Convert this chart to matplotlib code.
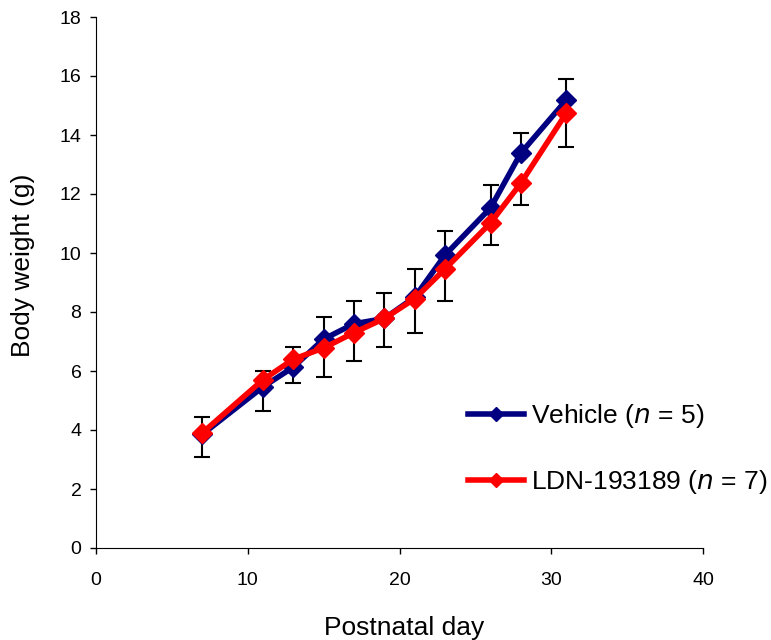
import matplotlib
matplotlib.use("Agg")
import matplotlib.pyplot as plt
import numpy as np

plt.rcParams['font.family'] = ['Liberation Sans', 'DejaVu Sans']

days = [7, 11, 13, 15, 17, 19, 21, 23, 26, 28, 31]
vehicle = [3.85, 5.46, 6.13, 7.08, 7.6, 7.78, 8.5, 9.93, 11.53, 13.39, 15.19]
vehicle_err = [0.59, 0.54, 0.68, 0.75, 0.77, 0.86, 0.96, 0.82, 0.77, 0.68, 0.71]
ldn = [3.9, 5.7, 6.4, 6.78, 7.3, 7.78, 8.45, 9.46, 11.02, 12.37, 14.75]
ldn_err = [0.82, 1.06, 0.81, 0.98, 0.96, 0.98, 1.15, 1.09, 0.75, 0.74, 1.16]

fig = plt.figure(figsize=(7.71, 6.4), dpi=100)
ax = fig.add_axes([96/771, 1-548/640, (703-96)/771, (548-17)/640])

# error bars: vehicle plus only, LDN minus only
ax.errorbar(days, vehicle, yerr=[np.zeros(len(days)), vehicle_err], fmt='none',
            ecolor='black', elinewidth=1.5, capsize=6, capthick=1.5, zorder=1)
ax.errorbar(days, ldn, yerr=[ldn_err, np.zeros(len(days))], fmt='none',
            ecolor='black', elinewidth=1.5, capsize=6, capthick=1.5, zorder=1)

ax.plot(days, vehicle, color='#000080', lw=4, marker='D', ms=10, zorder=3,
        label='Vehicle ($\\it{n}$ = 5)')
ax.plot(days, ldn, color='#FF0000', lw=4, marker='D', ms=10, zorder=4,
        label='LDN-193189 ($\\it{n}$ = 7)')

ax.set_xlim(0, 40)
ax.set_ylim(0, 18)
ax.set_xticks(np.arange(0, 41, 10))
ax.set_yticks(np.arange(0, 19, 2))
for s in ['top', 'right']:
    ax.spines[s].set_visible(False)
ax.tick_params(direction='out', length=4.5, labelsize=14, width=1)
ax.tick_params(axis='x', pad=13)
ax.tick_params(axis='y', pad=6)
ax.set_xlabel('Postnatal day', fontsize=19)
ax.set_ylabel('Body weight (g)', fontsize=19)
ax.yaxis.set_label_coords(-0.1, 0.533)
ax.xaxis.set_label_coords(0.508, -0.128)

leg = ax.legend(loc='upper left', bbox_to_anchor=(0.613, 0.275), frameon=False,
                fontsize=19, labelspacing=1.45, handlelength=2.1, handletextpad=0.3,
                markerscale=0.75, borderpad=0, borderaxespad=0)

fig.savefig('out.png', dpi=100)
